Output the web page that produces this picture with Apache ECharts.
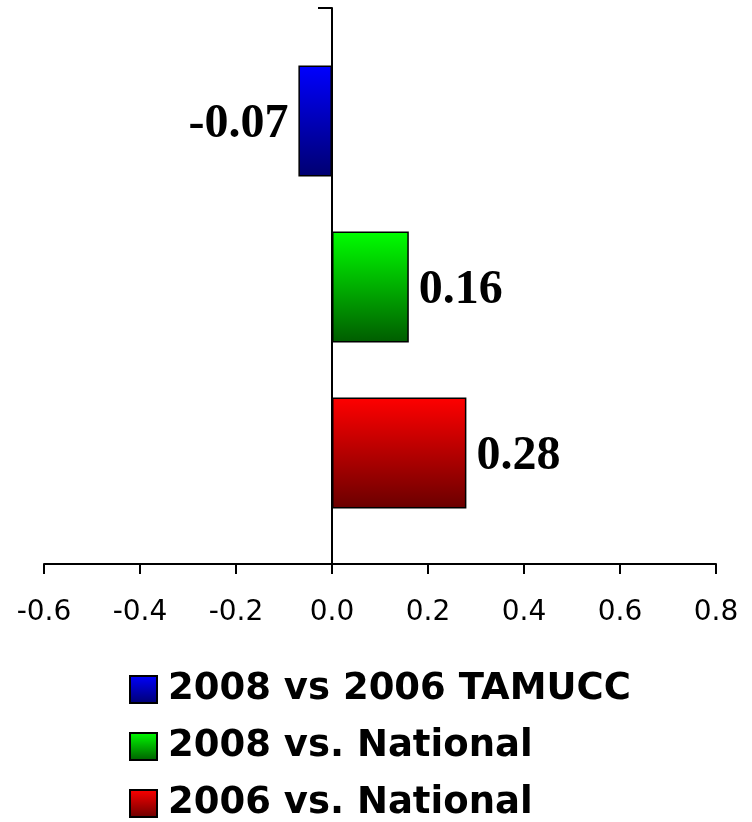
<!DOCTYPE html>
<html>
<head>
<meta charset="utf-8">
<script src="https://cdn.jsdelivr.net/npm/echarts@6/dist/echarts.min.js"></script>
<style>html,body{margin:0;padding:0;background:#fff}#c{width:752px;height:822px}</style>
</head>
<body>
<div id="c"></div>
<script>
// Categories listed bottom-to-top (category axis runs upward)
var categories = ['2006 vs. National', '2008 vs. National', '2008 vs 2006 TAMUCC'];
var values = [0.28, 0.16, -0.07];
var legendOrder = ['2008 vs 2006 TAMUCC', '2008 vs. National', '2006 vs. National'];
var xTicks = { min: -0.6, max: 0.8, interval: 0.2 };

var gradients = [
  ['#ff0000', '#6a0000'],
  ['#00ff00', '#005c00'],
  ['#0000ff', '#000070']
];

var chart = echarts.init(document.getElementById('c'), null, { renderer: 'canvas' });

var series = categories.map(function (name, k) {
  return {
    name: name,
    type: 'bar',
    xAxisIndex: 1,
    yAxisIndex: 1,
    barWidth: '67%',
    barGap: '-100%',
    data: categories.map(function (c, i) { return i === k ? values[k] : '-'; }),
    itemStyle: {
      color: new echarts.graphic.LinearGradient(0, 0, 0, 1, [
        { offset: 0, color: gradients[k][0] },
        { offset: 1, color: gradients[k][1] }
      ]),
      borderColor: '#000',
      borderWidth: 1.5
    },
    label: {
      show: true,
      position: values[k] < 0 ? 'left' : 'right',
      distance: 10,
      offset: [0, 4],
      formatter: function (p) { return p.value.toFixed(2); },
      fontFamily: '"Liberation Serif", "Times New Roman", serif',
      fontWeight: 'bold',
      fontSize: 48,
      color: '#000'
    },
    emphasis: { disabled: true },
    animation: false
  };
});

var legendTops = [666, 723, 780];
var legends = legendOrder.map(function (name, i) {
  return {
    orient: 'vertical',
    left: 124,
    top: legendTops[i],
    data: [name],
    icon: 'rect',
    itemWidth: 27,
    itemHeight: 27,
    selectedMode: false,
    textStyle: {
      color: '#000', fontFamily: '"DejaVu Sans"', fontWeight: 'bold', fontSize: 37,
      padding: [0, 0, 0, 6]
    }
  };
});

chart.setOption({
  animation: false,
  backgroundColor: '#fff',
  grid: [
    { left: 44, right: 36, top: 8, bottom: 258, containLabel: false },
    { left: 44, right: 36, top: 38, bottom: 286, containLabel: false }
  ],
  xAxis: [
    {
      type: 'value', gridIndex: 0,
      min: xTicks.min, max: xTicks.max, interval: xTicks.interval,
      axisLine: { show: true, onZero: false, lineStyle: { color: '#000', width: 2 } },
      axisTick: { show: true, length: 10, lineStyle: { color: '#000', width: 2 } },
      splitLine: { show: false },
      axisLabel: {
        margin: 35,
        color: '#000', fontFamily: '"DejaVu Sans"', fontSize: 28,
        formatter: function (v) { return v.toFixed(1); }
      }
    },
    {
      type: 'value', gridIndex: 1, show: false,
      min: xTicks.min, max: xTicks.max, interval: xTicks.interval,
      splitLine: { show: false }
    }
  ],
  yAxis: [
    {
      type: 'category', gridIndex: 0, data: [''],
      axisLine: { show: true, onZero: true, lineStyle: { color: '#000', width: 2 } },
      axisTick: { show: true, length: 14, lineStyle: { color: '#000', width: 2 } },
      axisLabel: { show: false },
      splitLine: { show: false }
    },
    {
      type: 'category', gridIndex: 1, data: categories, show: false
    }
  ],
  legend: legends,
  series: series
});
</script>
</body>
</html>
